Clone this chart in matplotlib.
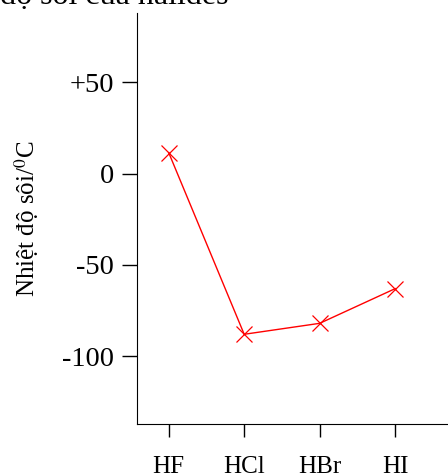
import matplotlib
matplotlib.use('Agg')
import matplotlib.pyplot as plt

# font kiểu Times
matplotlib.rcParams['font.family'] = ['Liberation Serif', 'DejaVu Serif']
matplotlib.rcParams['mathtext.fontset'] = 'stix'

halides = ['HF', 'HCl', 'HBr', 'HI']
nhiet_do_soi = [11.5, -88, -82, -63]
y_ticks = [50, 0, -50, -100]
y_tick_labels = ['+50', '0', '-50', '-100']

fig = plt.figure(figsize=(4.48, 4.73), dpi=100)
ax = fig.add_axes([137.3 / 448, 1 - 424.3 / 473, 1 - 137.3 / 448, (424.3 - 13.3) / 473])

x = list(range(len(halides)))
ax.plot(x, nhiet_do_soi, color='red', linewidth=1, marker='x',
        markersize=12, markeredgewidth=0.9)

ax.set_xlim(-0.416, 3.70)
ax.set_ylim(-137.3, 87.8)
ax.set_xticks(x)
ax.set_xticklabels(halides, fontsize=18)
ax.set_yticks(y_ticks)
ax.set_yticklabels(y_tick_labels, fontsize=20.5)

ax.spines['top'].set_visible(False)
ax.spines['right'].set_visible(False)
ax.tick_params(axis='x', direction='out', length=9, width=1, pad=14)
ax.tick_params(axis='y', direction='out', length=10.8, width=1, pad=6)

ax.set_ylabel('Nhiệt độ sôi/$^0$C', fontsize=18)
ax.yaxis.set_label_coords(-0.31, 0.5)

# tiêu đề bị cắt ở mép trên
fig.text(228 / 448, 1 - 4 / 473, 'Nhiệt độ sôi của halides', fontsize=23,
         ha='right', va='baseline')

fig.savefig('out.png', dpi=100)
